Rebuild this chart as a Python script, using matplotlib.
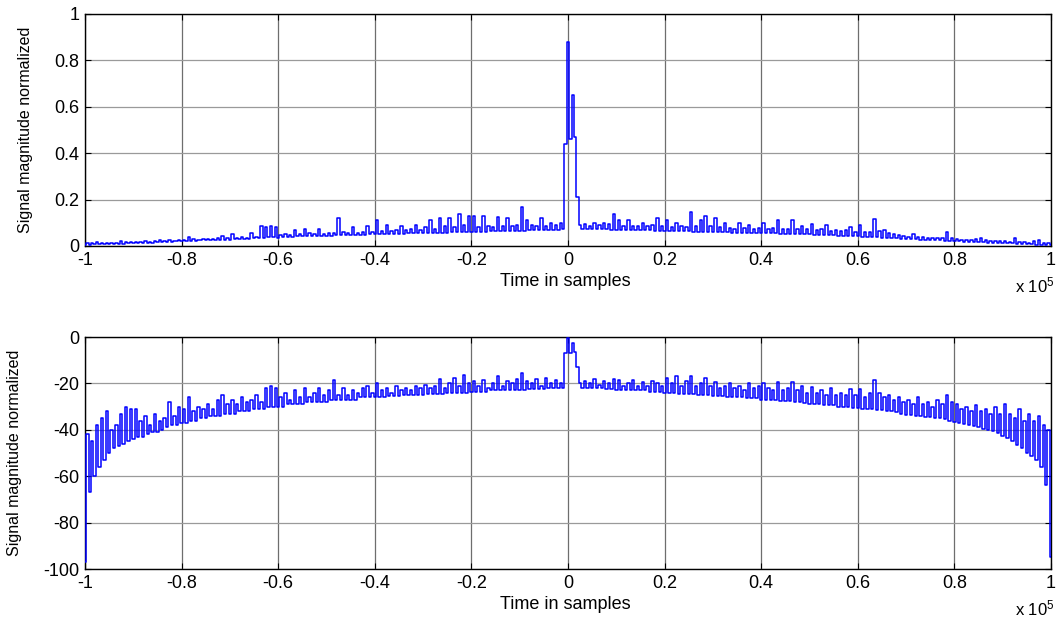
import numpy as np
import matplotlib
matplotlib.use("Agg")
import matplotlib.pyplot as plt
from matplotlib.ticker import FuncFormatter

plt.rcParams['font.family'] = ['Liberation Sans', 'DejaVu Sans']
plt.rcParams['axes.unicode_minus'] = False
plt.rcParams['mathtext.fontset'] = 'custom'
plt.rcParams['mathtext.rm'] = 'Liberation Sans'
plt.rcParams['mathtext.default'] = 'regular'

# sample grid: 401 readings from -1e5 to 1e5 samples (one every 500 samples)
n_samples = 401
sample_min, sample_max = -1e5, 1e5

# top panel: normalized linear magnitude (one row per 0.1e5)
magnitude_linear = [
    0.004, 0.012, 0.006, 0.014, 0.008, 0.016, 0.007, 0.012, 0.009, 0.013, 0.008, 0.015, 0.009, 0.013, 0.010, 0.022, 0.010, 0.018, 0.011, 0.016,
    0.012, 0.019, 0.013, 0.017, 0.014, 0.020, 0.015, 0.018, 0.015, 0.022, 0.016, 0.028, 0.017, 0.021, 0.018, 0.024, 0.019, 0.023, 0.020, 0.026,
    0.021, 0.028, 0.022, 0.040, 0.023, 0.030, 0.023, 0.027, 0.024, 0.029, 0.024, 0.032, 0.025, 0.030, 0.025, 0.034, 0.026, 0.045, 0.027, 0.033,
    0.028, 0.050, 0.029, 0.036, 0.030, 0.038, 0.031, 0.035, 0.032, 0.055, 0.033, 0.040, 0.034, 0.085, 0.036, 0.082, 0.037, 0.086, 0.038, 0.080,
    0.036, 0.048, 0.038, 0.052, 0.039, 0.046, 0.040, 0.070, 0.041, 0.050, 0.041, 0.072, 0.042, 0.055, 0.043, 0.050, 0.043, 0.075, 0.044, 0.052,
    0.045, 0.058, 0.045, 0.055, 0.046, 0.122, 0.046, 0.060, 0.047, 0.056, 0.047, 0.080, 0.048, 0.058, 0.049, 0.062, 0.049, 0.085, 0.050, 0.060,
    0.050, 0.110, 0.051, 0.064, 0.051, 0.090, 0.052, 0.066, 0.052, 0.070, 0.053, 0.085, 0.053, 0.068, 0.054, 0.072, 0.055, 0.090, 0.055, 0.070,
    0.056, 0.080, 0.056, 0.110, 0.057, 0.075, 0.057, 0.120, 0.058, 0.085, 0.058, 0.120, 0.059, 0.082, 0.059, 0.140, 0.060, 0.090, 0.060, 0.130,
    0.061, 0.130, 0.061, 0.080, 0.062, 0.130, 0.062, 0.085, 0.063, 0.082, 0.063, 0.125, 0.064, 0.088, 0.064, 0.120, 0.065, 0.085, 0.065, 0.090,
    0.066, 0.170, 0.066, 0.110, 0.067, 0.090, 0.067, 0.085, 0.068, 0.120, 0.068, 0.088, 0.069, 0.100, 0.070, 0.090, 0.070, 0.100, 0.072, 0.440,
    0.880, 0.460, 0.650, 0.470, 0.210, 0.090, 0.075, 0.095, 0.074, 0.088, 0.073, 0.100, 0.073, 0.090, 0.072, 0.100, 0.072, 0.095, 0.071, 0.137,
    0.070, 0.110, 0.070, 0.085, 0.069, 0.110, 0.069, 0.088, 0.068, 0.085, 0.068, 0.100, 0.067, 0.085, 0.067, 0.090, 0.066, 0.120, 0.066, 0.085,
    0.065, 0.110, 0.065, 0.082, 0.064, 0.100, 0.064, 0.085, 0.063, 0.080, 0.063, 0.145, 0.062, 0.085, 0.062, 0.110, 0.061, 0.130, 0.061, 0.085,
    0.060, 0.120, 0.060, 0.080, 0.059, 0.100, 0.059, 0.078, 0.058, 0.075, 0.058, 0.100, 0.057, 0.076, 0.057, 0.090, 0.056, 0.074, 0.056, 0.078,
    0.055, 0.100, 0.055, 0.072, 0.054, 0.076, 0.054, 0.110, 0.053, 0.074, 0.053, 0.075, 0.052, 0.110, 0.052, 0.072, 0.051, 0.085, 0.051, 0.072,
    0.050, 0.095, 0.049, 0.068, 0.049, 0.072, 0.048, 0.090, 0.047, 0.066, 0.046, 0.070, 0.045, 0.064, 0.044, 0.068, 0.043, 0.080, 0.042, 0.062,
    0.041, 0.090, 0.040, 0.062, 0.039, 0.060, 0.038, 0.115, 0.037, 0.065, 0.036, 0.070, 0.035, 0.055, 0.034, 0.050, 0.033, 0.048, 0.032, 0.045,
    0.031, 0.040, 0.030, 0.050, 0.029, 0.040, 0.028, 0.038, 0.027, 0.036, 0.026, 0.034, 0.025, 0.035, 0.024, 0.033, 0.023, 0.060, 0.022, 0.034,
    0.021, 0.030, 0.020, 0.028, 0.019, 0.027, 0.018, 0.025, 0.018, 0.030, 0.017, 0.035, 0.016, 0.024, 0.015, 0.022, 0.014, 0.023, 0.013, 0.021,
    0.012, 0.020, 0.011, 0.018, 0.011, 0.035, 0.010, 0.018, 0.009, 0.016, 0.008, 0.015, 0.007, 0.020, 0.006, 0.025, 0.005, 0.015, 0.004, 0.012,
    0.003,
]

# bottom panel: same signal in dB
magnitude_db = [
    -97, -42, -67, -45, -60, -38, -56, -35, -53, -32, -50, -40, -48, -38, -47, -33, -46, -30, -45, -31,
    -44, -31, -43, -36, -43, -34, -42, -38, -41, -33, -41, -36, -40, -35, -39, -28, -38, -34, -38, -30,
    -37, -31, -37, -26, -36, -32, -36, -30, -35, -31, -35, -29, -34, -31, -34, -27, -34, -25, -33, -29,
    -33, -27, -33, -29, -32, -26, -32, -28, -32, -27, -31, -25, -31, -28, -31, -22, -30, -21, -30, -22,
    -30, -26, -30, -24, -29, -27, -29, -23, -29, -26, -29, -22, -28, -26, -28, -24, -28, -22, -28, -25,
    -28, -23, -27, -18.5, -27, -25, -27, -22, -27, -25, -27, -23, -27, -24, -26, -22, -26, -21, -26, -24,
    -26, -20, -26, -23, -26, -22, -25.5, -24, -25.5, -21, -25.5, -23, -25, -22, -25, -23, -25, -21, -25, -22,
    -25, -20.5, -24.5, -22, -24.5, -21, -24.5, -18, -24.5, -22, -24, -20, -24, -17.5, -24, -21, -24, -16.5, -24, -20,
    -23.5, -19, -23.5, -21, -23.5, -18.5, -23.5, -22, -23, -20, -23, -17, -23, -21, -23, -19, -23, -20, -23, -18,
    -23, -15.5, -23, -19, -22.5, -20, -22.5, -18, -22.5, -21, -22.5, -17.5, -22, -20, -22, -18.5, -22, -20, -22, -7,
    -0.5, -7, -2.5, -6.5, -13, -20, -22, -19, -22, -20, -22, -18, -22, -20.5, -22, -19, -22.5, -20, -22.5, -18,
    -23, -18.5, -23, -21, -23, -20, -23, -18.5, -23, -21, -23, -19.5, -23, -21, -23.5, -19, -23.5, -20, -23.5, -21,
    -24, -17.5, -24, -20, -24, -17, -24.5, -21, -24.5, -19, -24.5, -17, -24.5, -21, -25, -20, -25, -17.5, -25, -21,
    -25.5, -19.5, -25.5, -22, -25.5, -21, -26, -20, -26, -22, -26, -21, -26, -23, -26.5, -20, -26.5, -22, -26.5, -21,
    -27, -20, -27, -22, -27, -23, -27, -19.5, -27.5, -23, -27.5, -22, -27.5, -19.5, -28, -23, -28, -21, -28.5, -24,
    -29, -21.5, -29, -24, -29, -23, -29.5, -25, -29.5, -22, -29.5, -25, -30, -24, -30, -25, -30, -22.5, -30.5, -25,
    -30.5, -22.5, -31, -26, -31, -24, -31, -18.5, -31.5, -24, -31.5, -26, -32, -25, -32, -27, -32.5, -26, -33, -28,
    -33.5, -27, -33.5, -29, -34, -26, -34, -29, -34.5, -28, -34.5, -30, -35, -27, -35, -29, -35.5, -25, -36, -28,
    -36.5, -29, -37, -31, -37.5, -30, -38, -32, -38.5, -29.5, -39, -32, -39.5, -31, -40, -33, -40.5, -30, -41.5, -33,
    -42.5, -29, -43.5, -33, -45, -35, -46.5, -31, -48, -36, -50, -33, -51.5, -36, -53, -34, -56, -38, -64, -40,
    -95,
]

x_ticks = [-1e5, -0.8e5, -0.6e5, -0.4e5, -0.2e5, 0, 0.2e5, 0.4e5, 0.6e5, 0.8e5, 1e5]
top_yticks = [0, 0.2, 0.4, 0.6, 0.8, 1]
bottom_yticks = [-100, -80, -60, -40, -20, 0]

samples = np.linspace(sample_min, sample_max, n_samples)

fig = plt.figure(figsize=(10.57, 6.23), dpi=100)
ax_top = fig.add_axes([85 / 1057, 1 - 246 / 623, 966 / 1057, 232 / 623])
ax_bot = fig.add_axes([85 / 1057, 1 - 569 / 623, 966 / 1057, 232 / 623])

panels = [
    (ax_top, magnitude_linear, (0, 1), top_yticks, -0.0538),
    (ax_bot, magnitude_db, (-100, 0), bottom_yticks, -0.0652),
]

for ax, values, ylim, yticks, ylab_x in panels:
    # step drawing gives the flat-topped vertical spikes of the original trace
    ax.plot(samples, values, color='#0000ff', lw=1.1, drawstyle='steps-mid', zorder=3)
    ax.set_xlim(sample_min, sample_max)
    ax.set_ylim(*ylim)
    ax.set_xticks(x_ticks)
    ax.set_yticks(yticks)
    ax.xaxis.set_major_formatter(FuncFormatter(lambda v, p: '%g' % (v / 1e5)))
    ax.yaxis.set_major_formatter(FuncFormatter(lambda v, p: '%g' % v))
    ax.tick_params(direction='in', top=True, right=True, length=4, width=0.8,
                   labelsize=13, pad=4, colors='black')
    ax.grid(True, axis='x', color='#6e6e6e', lw=0.9, zorder=1)
    ax.grid(True, axis='y', color='#9a9a9a', lw=0.9, zorder=1)
    for s in ax.spines.values():
        s.set_linewidth(1.0)
        s.set_color('black')
    ax.set_xlabel('Time in samples', fontsize=13)
    ax.xaxis.set_label_coords(0.497, -0.115)
    ax.set_ylabel('Signal magnitude normalized', fontsize=11.5)
    ax.yaxis.set_label_coords(ylab_x, 0.5)
    ax.text(1.004, -0.168, r'x 10$^{5}$', transform=ax.transAxes,
            ha='right', va='center', fontsize=12)

fig.savefig('out.png', dpi=100)
